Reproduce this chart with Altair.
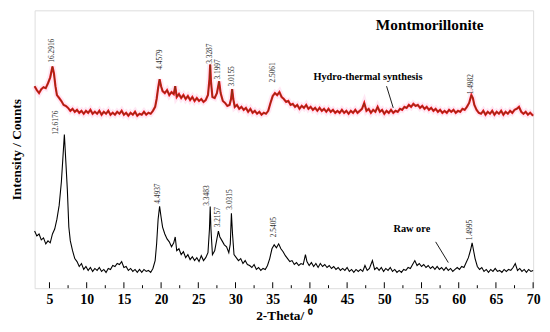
import altair as alt
import pandas as pd

# ---- data (intensity in arbitrary units) ----
raw_x = [3.0,3.3,3.6,3.9,4.2,4.5,4.8,5.1,5.4,5.7,6.0,6.3,6.6,6.8,7.0,7.2,7.4,7.6,7.8,8.1,8.4,8.7,9.0,9.3,9.6,9.9,
         10.2,10.5,10.8,11.1,11.4,11.7,12.0,12.3,12.6,12.9,13.2,13.5,13.8,14.1,14.4,14.7,15.0,15.3,15.6,15.9,16.2,16.5,
         16.8,17.1,17.4,17.7,18.0,18.3,18.6,18.9,19.2,19.4,19.6,19.8,20.0,20.2,20.5,20.8,21.1,21.4,21.7,21.9,22.1,22.4,
         22.7,23.0,23.3,23.6,23.9,24.2,24.5,24.8,25.1,25.4,25.7,26.0,26.3,26.5,26.6,26.7,26.9,27.2,27.5,27.7,27.9,28.2,
         28.5,28.8,29.1,29.3,29.45,29.6,29.8,30.1,30.4,30.7,31.0,31.3,31.6,31.9,32.2,32.5,32.8,33.1,33.4,33.7,34.0,34.3,
         34.6,34.9,35.2,35.5,35.8,36.1,36.4,36.7,37.0,37.3,37.6,37.9,38.2,38.5,38.8,39.1,39.4,39.6,39.9,40.2,40.5,40.8,
         41.1,41.4,41.7,42.0,42.3,42.6,42.9,43.2,43.5,43.8,44.1,44.4,44.7,45.0,45.3,45.6,45.9,46.2,46.5,46.8,47.1,47.4,
         47.7,48.0,48.4,48.7,49.0,49.3,49.6,49.9,50.2,50.5,50.8,51.1,51.4,51.7,52.0,52.3,52.6,52.9,53.2,53.5,53.8,54.1,
         54.4,54.7,55.0,55.3,55.6,55.9,56.2,56.5,56.8,57.1,57.4,57.7,58.0,58.3,58.6,58.9,59.2,59.5,59.8,60.1,60.4,60.7,
         61.0,61.3,61.6,61.8,62.0,62.2,62.5,62.8,63.1,63.4,63.7,64.0,64.3,64.6,64.9,65.2,65.5,65.8,66.1,66.4,66.7,67.0,
         67.3,67.6,67.9,68.2,68.5,68.8,69.1,69.4,69.7,70.0]
raw_y = [58,53,55,49,51,45,48,46,55,60,70,84,108,132,156,128,100,62,48,38,30,27,22,25,19,22,
         18,21,17,20,18,21,17,19,16,20,19,23,22,25,24,27,21,22,18,20,17,19,
         16,19,16,19,17,18,16,20,28,45,70,83,72,62,55,50,47,42,46,52,38,40,
         34,37,31,34,29,32,28,31,27,33,28,31,36,60,83,60,34,38,50,58,52,48,
         44,42,36,45,76,55,34,31,28,30,25,28,24,23,21,24,19,21,18,20,19,23,
         30,40,44,41,45,40,37,33,30,27,28,24,26,23,25,24,34,27,23,26,22,25,
         21,25,22,24,21,23,20,22,19,21,18,20,18,21,17,19,16,19,17,19,17,23,
         18,20,28,19,21,18,21,17,20,18,21,17,19,16,18,16,19,18,21,20,24,28,
         23,25,22,24,21,23,20,22,19,22,19,21,18,21,18,20,17,19,21,19,22,21,
         26,31,39,46,38,30,22,19,21,17,19,16,19,17,20,17,18,16,19,17,19,18,
         21,25,18,20,17,19,16,19,17,18]

hyd_x = [3.0,3.3,3.6,3.9,4.2,4.5,4.8,5.1,5.4,5.6,5.8,6.0,6.3,6.6,6.9,7.2,7.5,7.8,8.1,8.4,8.7,9.0,9.3,9.6,9.9,
         10.2,10.5,10.8,11.1,11.4,11.7,12.0,12.3,12.6,12.9,13.2,13.5,13.8,14.1,14.4,14.7,15.0,15.3,15.6,15.9,16.2,16.5,
         16.8,17.1,17.4,17.7,18.0,18.3,18.6,18.9,19.2,19.4,19.6,19.8,20.0,20.2,20.5,20.8,21.1,21.4,21.7,21.9,22.1,22.4,
         22.7,23.0,23.3,23.6,23.9,24.2,24.5,24.8,25.1,25.4,25.7,26.0,26.3,26.5,26.6,26.7,26.9,27.2,27.5,27.8,28.0,28.3,
         28.6,28.9,29.2,29.4,29.55,29.7,29.9,30.2,30.5,30.8,31.1,31.4,31.7,32.0,32.3,32.6,32.9,33.2,33.5,33.8,34.1,34.4,
         34.7,35.0,35.3,35.6,35.9,36.2,36.5,36.8,37.1,37.4,37.7,38.0,38.3,38.6,38.9,39.2,39.5,39.8,40.1,40.4,40.7,41.0,
         41.3,41.6,41.9,42.2,42.5,42.8,43.1,43.4,43.7,44.0,44.3,44.6,44.9,45.2,45.5,45.8,46.1,46.4,46.7,47.0,47.3,47.6,
         47.9,48.2,48.5,48.8,49.1,49.4,49.7,50.0,50.3,50.6,50.9,51.2,51.5,51.8,52.1,52.4,52.7,53.0,53.3,53.6,53.9,54.2,
         54.5,54.8,55.1,55.4,55.7,56.0,56.3,56.6,56.9,57.2,57.5,57.8,58.1,58.4,58.7,59.0,59.3,59.6,59.9,60.2,60.5,60.8,
         61.1,61.4,61.7,61.9,62.1,62.4,62.7,63.0,63.3,63.6,63.9,64.2,64.5,64.8,65.1,65.4,65.7,66.0,66.3,66.6,66.9,67.2,
         67.5,67.8,68.1,68.4,68.7,69.0,69.3,69.6,70.0]
hyd_y = [205,201,198,202,204,203,208,214,225,218,205,196,193,190,186,185,183,180,182,179,181,178,180,177,180,
         178,181,177,179,177,180,176,179,177,180,176,178,176,179,177,180,176,178,175,178,176,179,
         175,177,176,179,176,178,177,180,184,192,203,212,205,200,198,201,196,199,197,205,194,197,
         193,196,192,195,191,194,190,193,190,192,189,191,196,212,227,210,194,193,198,210,198,190,
         188,185,186,192,202,192,184,186,182,184,181,183,179,182,178,180,177,179,176,178,177,180,
         188,195,198,196,199,194,192,189,190,186,187,184,186,182,185,183,186,182,184,181,183,180,
         183,180,182,179,182,179,181,178,180,178,181,178,180,177,180,178,181,178,180,182,188,180,
         182,178,181,179,184,179,181,177,180,178,181,178,180,179,182,181,184,183,186,184,187,185,
         186,183,185,182,184,181,183,180,182,179,181,178,180,178,181,179,181,178,180,179,182,181,
         184,188,196,193,186,181,178,177,180,176,179,177,180,176,179,177,180,176,179,177,180,178,
         181,182,184,179,177,179,176,178,175]

peak_labels = ["16.2916", "4.4579", "3.3287", "3.1997", "3.0155", "2.5061", "1.4982",
               "12.6176", "4.4937", "3.3483", "3.2157", "3.0315", "2.5405", "1.4995"]
peak_x = [5.4, 19.8, 26.6, 27.7, 29.5, 35.1, 61.7,
          5.9, 19.6, 26.2, 27.6, 29.2, 35.2, 61.5]
peak_y = [241, 232, 238, 222, 215, 219, 207,
          168, 96, 94, 72, 90, 62, 59]

major_ticks = [5, 10, 15, 20, 25, 30, 35, 40, 45, 50, 55, 60, 65, 70]
minor_ticks = [7.5, 12.5, 17.5, 22.5, 27.5, 32.5, 37.5, 42.5, 47.5, 52.5, 57.5, 62.5, 67.5]

notes = ["Montmorillonite", "Hydro-thermal synthesis", "Raw ore"]
note_x = [56.1, 47.8, 53.7]
note_y = [267, 214, 60]
note_size = [15.5, 10.5, 10.5]

leader_x = [50.3, 56.9]
leader_x2 = [51.2, 58.6]
leader_y = [205, 47]
leader_y2 = [183, 26]

# ---- scales ----
SERIF = "Liberation Serif"
xs = alt.Scale(domain=[3, 70], nice=False, zero=False)
ys = alt.Scale(domain=[0, 282], nice=False, zero=False)

raw_df = pd.DataFrame({"t": raw_x, "v": raw_y})
hyd_df = pd.DataFrame({"t": hyd_x, "v": hyd_y})
peaks_df = pd.DataFrame({"t": peak_x, "v": peak_y, "label": peak_labels})
major_df = pd.DataFrame({"t": major_ticks, "v0": [0] * len(major_ticks), "v1": [6] * len(major_ticks)})
minor_df = pd.DataFrame({"t": minor_ticks, "v0": [0] * len(minor_ticks), "v1": [3] * len(minor_ticks)})
notes_df = pd.DataFrame({"t": note_x, "v": note_y, "label": notes, "size": note_size})
lead_df = pd.DataFrame({"t": leader_x, "t2": leader_x2, "v": leader_y, "v2": leader_y2})

xaxis = alt.Axis(values=major_ticks, ticks=False, domain=False, grid=False, labelFont=SERIF,
                 labelFontWeight="bold", labelFontSize=14, labelColor="black", labelPadding=5,
                 labelOverlap=False, labelFlush=False,
                 title="2-Theta/ \u2070", titleFont=SERIF, titleFontWeight="bold", titleFontSize=13.5,
                 titleColor="black", titleY=28, titleBaseline="middle")
yaxis = alt.Axis(labels=False, ticks=False, domain=False, grid=False,
                 title="Intensity / Counts", titleFont=SERIF, titleFontWeight="bold", titleFontSize=13.5,
                 titleColor="black", titleX=-18, titleY=141, titleAngle=270, titleAlign="center",
                 titleBaseline="middle")

raw_line = alt.Chart(raw_df).mark_line(color="black", strokeWidth=1.1).encode(
    x=alt.X("t:Q", scale=xs, axis=xaxis),
    y=alt.Y("v:Q", scale=ys, axis=yaxis),
)
hyd_halo = alt.Chart(hyd_df).mark_line(color="#ffb3d9", strokeWidth=6, opacity=0.3).encode(
    x=alt.X("t:Q", scale=xs, axis=xaxis), y=alt.Y("v:Q", scale=ys, axis=yaxis))
hyd_red = alt.Chart(hyd_df).mark_line(color="#e8141c", strokeWidth=2.2).encode(
    x=alt.X("t:Q", scale=xs, axis=xaxis), y=alt.Y("v:Q", scale=ys, axis=yaxis))
hyd_dark = alt.Chart(hyd_df).mark_line(color="#6e3a12", strokeWidth=0.8).encode(
    x=alt.X("t:Q", scale=xs, axis=xaxis), y=alt.Y("v:Q", scale=ys, axis=yaxis))

major = alt.Chart(major_df).mark_rule(color="black", strokeWidth=1).encode(
    x=alt.X("t:Q", scale=xs, axis=xaxis), y=alt.Y("v0:Q", scale=ys, axis=yaxis), y2="v1:Q")
minor = alt.Chart(minor_df).mark_rule(color="black", strokeWidth=1).encode(
    x=alt.X("t:Q", scale=xs, axis=xaxis), y=alt.Y("v0:Q", scale=ys, axis=yaxis), y2="v1:Q")

peak_text = alt.Chart(peaks_df).mark_text(angle=270, align="center", baseline="middle",
                                           font=SERIF, fontSize=7.5, color="#333333").encode(
    x=alt.X("t:Q", scale=xs, axis=xaxis), y=alt.Y("v:Q", scale=ys, axis=yaxis), text="label:N")

note_text = alt.Chart(notes_df).mark_text(align="center", baseline="middle", font=SERIF,
                                           fontWeight="bold", color="black").encode(
    x=alt.X("t:Q", scale=xs, axis=xaxis), y=alt.Y("v:Q", scale=ys, axis=yaxis), text="label:N",
    size=alt.Size("size:Q", scale=None, legend=None))

leaders = alt.Chart(lead_df).mark_rule(color="black", strokeWidth=0.9).encode(
    x=alt.X("t:Q", scale=xs, axis=xaxis), x2="t2:Q", y=alt.Y("v:Q", scale=ys, axis=yaxis), y2="v2:Q")

chart = alt.layer(raw_line, hyd_halo, hyd_red, hyd_dark, major, minor, peak_text, note_text, leaders).properties(
    width=506, height=282, autosize="none",
    padding={"left": 27, "top": 0, "right": 9, "bottom": 34},
).configure_view(stroke="black", strokeWidth=1.5).configure_axisX(
    labelOverlap=False, labelFlush=False
).configure(background="white")

chart.save("out.html", embed_options={"renderer": "svg", "actions": False})
